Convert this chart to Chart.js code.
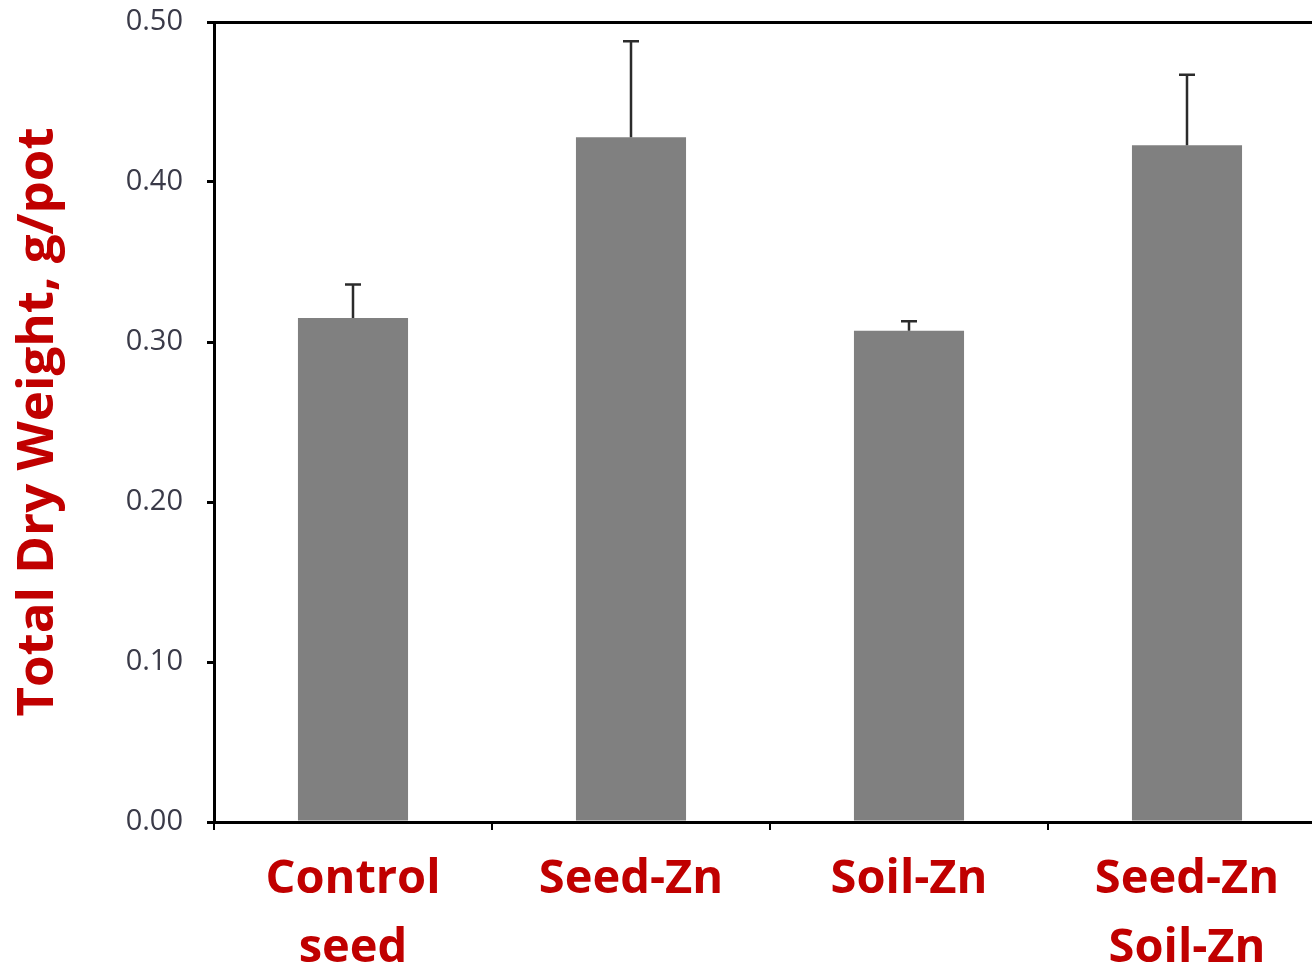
<!DOCTYPE html>
<html>
<head>
<meta charset="utf-8">
<script src="https://cdn.jsdelivr.net/npm/chart.js@4"></script>
<style>
  html, body { margin: 0; padding: 0; background: #fff; overflow: hidden; }
  #wrap { width: 1330px; height: 972px; }
</style>
</head>
<body>
<div id="wrap"><canvas id="myChart"></canvas></div>
<script>
// categories and values
var categories = [['Control', 'seed'], ['Seed-Zn'], ['Soil-Zn'], ['Seed-Zn', 'Soil-Zn']];
var dryWeight = [0.315, 0.428, 0.307, 0.423];
var errorUp = [0.021, 0.060, 0.006, 0.044];
var yTicks = [0.00, 0.10, 0.20, 0.30, 0.40, 0.50];

var red = '#C00000';

// draws the upper half of each error bar with a small cap
var errorBars = {
	id : 'errorBars',
	afterDatasetsDraw : function(chart) {
		var ctx = chart.ctx;
		var yScale = chart.scales.y;
		var meta = chart.getDatasetMeta(0);
		ctx.save();
		ctx.strokeStyle = '#2b2b2b';
		ctx.lineWidth = 2.5;
		meta.data.forEach(function(bar, i) {
			var top = yScale.getPixelForValue(dryWeight[i] + errorUp[i]);
			ctx.beginPath();
			ctx.moveTo(bar.x, bar.y);
			ctx.lineTo(bar.x, top);
			ctx.moveTo(bar.x - 8, top);
			ctx.lineTo(bar.x + 8, top);
			ctx.stroke();
		});
		ctx.restore();
	}
};

var ctx = document.getElementById('myChart').getContext('2d');
var chart = new Chart(ctx, {
	type : 'bar',
	data : {
		labels : categories,
		datasets : [ {
			data : dryWeight,
			backgroundColor : '#808080',
			borderWidth : 0,
			barPercentage : 0.396,
			categoryPercentage : 1.0
		} ]
	},
	plugins : [ errorBars ],
	options : {
		responsive : true,
		maintainAspectRatio : false,
		animation : false,
		layout : {
			padding : { top : 22, right : 4, left : 0, bottom : 0 }
		},
		plugins : {
			legend : { display : false },
			tooltip : { enabled : false }
		},
		scales : {
			x : {
				afterFit : function(scale) {
					scale.height = 150;
					scale.paddingLeft = 0;
					scale.paddingRight = 0;
				},
				border : { color : '#000', width : 3 },
				grid : {
					offset : true,
					drawOnChartArea : false,
					tickLength : 8,
					tickColor : '#000',
					lineWidth : 2
				},
				ticks : {
					color : red,
					padding : 16,
					font : { family : 'Open Sans', size : 47, weight : 'bold', lineHeight : 1.45 },
					maxRotation : 0
				}
			},
			y : {
				min : 0,
				max : 0.5,
				afterFit : function(scale) {
					scale.width = 214;
					scale.paddingTop = 0;
					scale.paddingBottom = 0;
				},
				afterBuildTicks : function(scale) {
					scale.ticks = yTicks.map(function(v) { return { value : v }; });
				},
				border : { color : '#000', width : 3 },
				grid : {
					drawOnChartArea : true,
					color : function(c) { return c.tick && c.tick.value === 0.5 ? '#000' : 'rgba(0,0,0,0)'; },
					lineWidth : 3,
					tickLength : 7,
					tickColor : '#000'
				},
				ticks : {
					color : '#3a3a48',
					padding : 24,
					font : { family : 'Open Sans', size : 29 },
					callback : function(v) { return Number(v).toFixed(2); }
				},
				title : {
					display : true,
					text : 'Total Dry Weight, g/pot',
					color : red,
					font : { family : 'Open Sans', size : 51, weight : 'bold' },
					padding : { top : 8, bottom : 0 }
				}
			}
		}
	}
});
</script>
</body>
</html>
